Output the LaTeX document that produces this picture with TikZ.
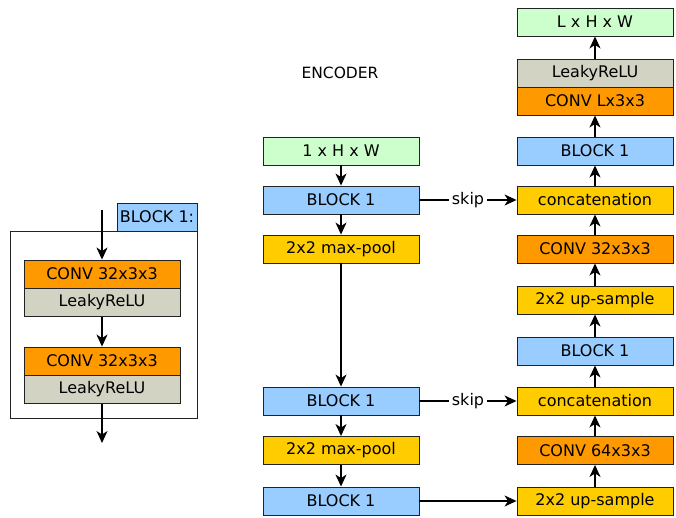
\documentclass[tikz,border=0pt]{standalone}
\usepackage{fontspec}
\setmainfont{DejaVu Sans}
\usetikzlibrary{arrows.meta}
\definecolor{cgreen}{HTML}{CCFFCC}
\definecolor{cblue}{HTML}{99CCFF}
\definecolor{corange}{HTML}{FF9900}
\definecolor{cyellow}{HTML}{FFCC00}
\definecolor{cgray}{HTML}{D3D3C3}
\definecolor{cline}{HTML}{222222}
\begin{document}
\begin{tikzpicture}[x=1pt,y=-1pt,
  box/.style={draw=cline,line width=0.9pt,minimum width=156pt,minimum height=28pt,inner sep=0pt,
    font=\fontsize{16}{19}\selectfont},
  inbox/.style={box,fill=cgreen},
  blockbox/.style={box,fill=cblue},
  convbox/.style={box,fill=corange},
  poolbox/.style={box,fill=cyellow},
  actbox/.style={box,fill=cgray},
  arr/.style={line width=1.3pt,-{Stealth[length=12pt,width=11pt,inset=3.5pt]}},
  lbl/.style={fill=white,inner xsep=3pt,inner ysep=1pt,font=\fontsize{16}{19}\selectfont}
]
\useasboundingbox (0,0) rectangle (676,517);

% left block detail
\draw[draw=cline,line width=0.9pt] (10,231) rectangle (197,418);
\node[draw=cline,line width=0.9pt,fill=cblue,minimum width=80pt,minimum height=28pt,inner sep=0pt,
  font=\fontsize{16}{19}\selectfont] (blab) at (157,217) {BLOCK 1:};
\coordinate (lin) at (102,210);
\coordinate (lout) at (102,443);
\node[convbox] (lc1) at (102,274) {CONV 32x3x3};
\node[actbox] (la1) at (102,302.5) {LeakyReLU};
\node[convbox] (lc2) at (102,361) {CONV 32x3x3};
\node[actbox] (la2) at (102,389.5) {LeakyReLU};
\draw[arr] (lin) -- (lc1);
\draw[arr] (la1) -- (lc2);
\draw[arr] (la2) -- (lout);

% encoder title
\node[font=\fontsize{15.5}{18}\selectfont] (enc) at (340,73) {ENCODER};

% encoder column
\node[inbox] (in) at (341,151) {1 x H x W};
\node[blockbox] (b1) at (341,200) {BLOCK 1};
\node[poolbox] (mp1) at (341,249) {2x2 max-pool};
\node[blockbox] (b2) at (341,401) {BLOCK 1};
\node[poolbox] (mp2) at (341,450.5) {2x2 max-pool};
\node[blockbox] (b3) at (341,501) {BLOCK 1};

% decoder column
\node[inbox] (out) at (595,22) {L x H x W};
\node[actbox] (lk) at (595,73) {LeakyReLU};
\node[convbox] (cl) at (595,101) {CONV Lx3x3};
\node[blockbox] (rb1) at (595,151) {BLOCK 1};
\node[poolbox] (cat1) at (595,200) {concatenation};
\node[convbox] (c32) at (595,249) {CONV 32x3x3};
\node[poolbox] (up1) at (595,300) {2x2 up-sample};
\node[blockbox] (rb2) at (595,351) {BLOCK 1};
\node[poolbox] (cat2) at (595,401) {concatenation};
\node[convbox] (c64) at (595,450.5) {CONV 64x3x3};
\node[poolbox] (up2) at (595,501) {2x2 up-sample};

% encoder arrows
\draw[arr] (in) -- (b1);
\draw[arr] (b1) -- (mp1);
\draw[arr] (mp1) -- (b2);
\draw[arr] (b2) -- (mp2);
\draw[arr] (mp2) -- (b3);

% cross arrows
\draw[arr] (b1) -- node[lbl] (s1) {skip} (cat1);
\draw[arr] (b2) -- node[lbl] (s2) {skip} (cat2);
\draw[arr] (b3) -- (up2);

% decoder arrows
\draw[arr] (up2) -- (c64);
\draw[arr] (c64) -- (cat2);
\draw[arr] (cat2) -- (rb2);
\draw[arr] (rb2) -- (up1);
\draw[arr] (up1) -- (c32);
\draw[arr] (c32) -- (cat1);
\draw[arr] (cat1) -- (rb1);
\draw[arr] (rb1) -- (cl);
\draw[arr] (lk) -- (out);
\end{tikzpicture}
\end{document}
